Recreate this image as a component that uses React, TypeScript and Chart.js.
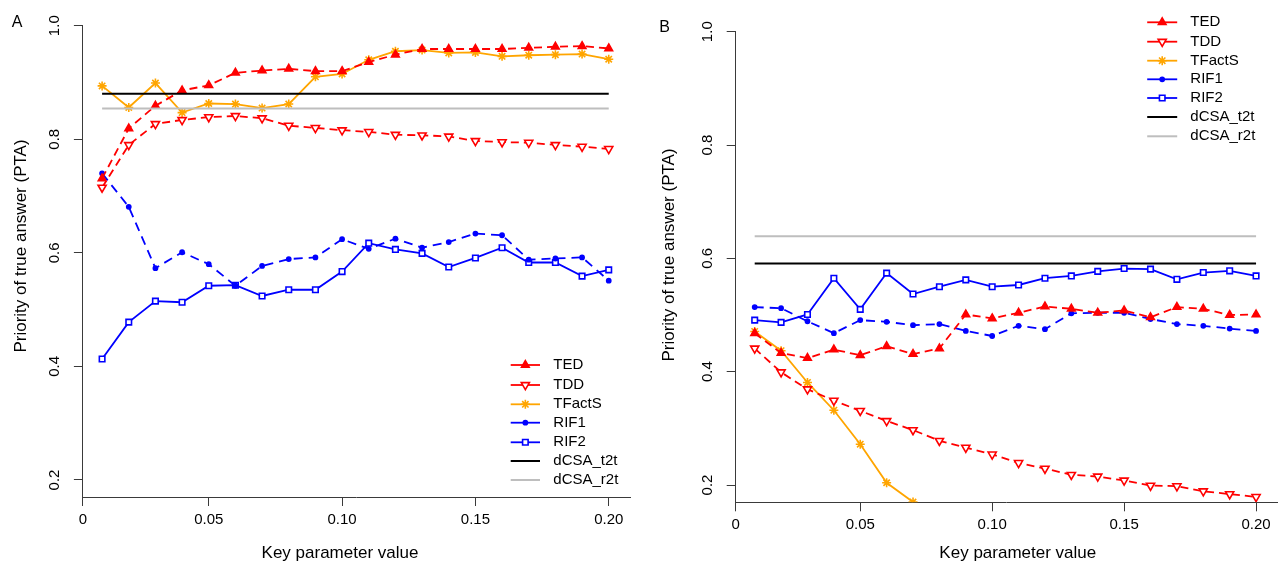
import React, { useEffect, useRef } from 'react';
import { Chart, registerables } from 'chart.js';
import { drawPoint } from 'chart.js/helpers';

Chart.register(...registerables);

// ---------------- data ----------------
const KEY_PARAM = [0.01, 0.02, 0.03, 0.04, 0.05, 0.06, 0.07, 0.08, 0.09, 0.1, 0.11, 0.12, 0.13, 0.14, 0.15, 0.16, 0.17, 0.18, 0.19, 0.2];
const X_TICK_VALUES = [0.05, 0.1, 0.15, 0.2];
const Y_TICK_VALUES = [0.2, 0.4, 0.6, 0.8, 1.0];
const SERIES_NAMES = ['TED', 'TDD', 'TFactS', 'RIF1', 'RIF2', 'dCSA_t2t', 'dCSA_r2t'];
const X_TITLE = 'Key parameter value';
const Y_TITLE = 'Priority of true answer (PTA)';

// Panel A
const A_TED = [0.731, 0.819, 0.859, 0.886, 0.895, 0.917, 0.921, 0.924, 0.92, 0.92, 0.936, 0.949, 0.959, 0.959, 0.959, 0.959, 0.961, 0.963, 0.964, 0.96];
const A_TDD = [0.715, 0.79, 0.827, 0.834, 0.839, 0.841, 0.837, 0.824, 0.82, 0.816, 0.813, 0.808, 0.807, 0.805, 0.797, 0.795, 0.794, 0.79, 0.787, 0.783];
const A_TFACTS = [0.894, 0.856, 0.899, 0.847, 0.863, 0.862, 0.855, 0.862, 0.91, 0.915, 0.94, 0.955, 0.957, 0.952, 0.953, 0.946, 0.948, 0.949, 0.95, 0.941];
const A_RIF1 = [0.74, 0.681, 0.573, 0.601, 0.58, 0.542, 0.577, 0.589, 0.592, 0.624, 0.607, 0.625, 0.609, 0.619, 0.634, 0.631, 0.588, 0.59, 0.592, 0.551];
const A_RIF2 = [0.413, 0.478, 0.515, 0.513, 0.542, 0.543, 0.524, 0.535, 0.535, 0.567, 0.617, 0.606, 0.599, 0.575, 0.591, 0.609, 0.583, 0.583, 0.559, 0.57];
const A_T2T = 0.88;
const A_R2T = 0.854;

// Panel B
const B_TED = [0.468, 0.433, 0.424, 0.439, 0.429, 0.445, 0.431, 0.441, 0.501, 0.494, 0.504, 0.515, 0.511, 0.504, 0.508, 0.496, 0.514, 0.511, 0.5, 0.501];
const B_TDD = [0.441, 0.399, 0.369, 0.349, 0.331, 0.313, 0.297, 0.278, 0.266, 0.254, 0.239, 0.229, 0.218, 0.215, 0.208, 0.199, 0.198, 0.189, 0.184, 0.179];
const B_TFACTS = [0.471, 0.437, 0.381, 0.332, 0.272, 0.204, 0.17, null, null, null, null, null, null, null, null, null, null, null, null, null];
const B_RIF1 = [0.514, 0.512, 0.489, 0.468, 0.491, 0.488, 0.482, 0.484, 0.472, 0.463, 0.481, 0.475, 0.503, 0.504, 0.504, 0.493, 0.484, 0.481, 0.476, 0.472];
const B_RIF2 = [0.491, 0.487, 0.501, 0.565, 0.51, 0.574, 0.537, 0.55, 0.562, 0.55, 0.553, 0.565, 0.569, 0.577, 0.582, 0.581, 0.563, 0.575, 0.578, 0.569];
const B_T2T = 0.591;
const B_R2T = 0.639;

// ---------------- styles ----------------
const FONT = '"Liberation Sans", Arial, Helvetica, sans-serif';
const AXIS_COLOR = '#3a3a3a';

type Style = {
  color: string;
  width: number;
  dash: number[];
  pointStyle: any;
  radius: number;
  rotation: number;
  fill: string;
};

const STYLES: Record<string, Style> = {
  TED: { color: '#FF0000', width: 1.8, dash: [8, 5], pointStyle: 'triangle', radius: 4.4, rotation: 0, fill: '#FF0000' },
  TDD: { color: '#FF0000', width: 1.8, dash: [8, 5], pointStyle: 'triangle', radius: 4.7, rotation: 180, fill: '#FFFFFF' },
  TFactS: { color: '#FFA500', width: 1.8, dash: [], pointStyle: 'star', radius: 4.5, rotation: 0, fill: '#FFA500' },
  RIF1: { color: '#0000FF', width: 1.8, dash: [9, 6], pointStyle: 'circle', radius: 2.1, rotation: 0, fill: '#0000FF' },
  RIF2: { color: '#0000FF', width: 1.8, dash: [], pointStyle: 'rect', radius: 3.9, rotation: 0, fill: '#FFFFFF' },
  dCSA_t2t: { color: '#000000', width: 2, dash: [], pointStyle: false, radius: 0, rotation: 0, fill: '#000000' },
  dCSA_r2t: { color: '#BEBEBE', width: 2, dash: [], pointStyle: false, radius: 0, rotation: 0, fill: '#BEBEBE' },
};

type Panel = {
  letter: string;
  values: (number | null)[][];
  t2t: number;
  r2t: number;
  width: number;
  yMin: number;
  xMin: number;
  xMax: number;
  padTop: number;
  padRight: number;
  yAxisW: number;
  xAxisH: number;
  letterPos: [number, number];
  xTitlePos: [number, number];
  yTitlePos: [number, number];
  legendRows: number[];
  legendLine: [number, number];
  legendText: number;
};

const PANELS: Panel[] = [
  {
    letter: 'A',
    values: [A_TED, A_TDD, A_TFACTS, A_RIF1, A_RIF2],
    t2t: A_T2T,
    r2t: A_R2T,
    width: 640,
    yMin: 0.17,
    xMin: 0.0028,
    xMax: 0.2082,
    padTop: 25.7,
    padRight: 9.4,
    yAxisW: 82.9,
    xAxisH: 66,
    letterPos: [17, 22.5],
    xTitlePos: [340, 557.5],
    yTitlePos: [26, 246],
    legendRows: [365, 385, 404.3, 422.7, 442.3, 461, 480],
    legendLine: [510.7, 540],
    legendText: 553.3,
  },
  {
    letter: 'B',
    values: [B_TED, B_TDD, B_TFACTS, B_RIF1, B_RIF2],
    t2t: B_T2T,
    r2t: B_R2T,
    width: 644,
    yMin: 0.1695,
    xMin: 0.0028,
    xMax: 0.2082,
    padTop: 31.7,
    padRight: 0.5,
    yAxisW: 95.7,
    xAxisH: 60.7,
    letterPos: [24.7, 27.5],
    xTitlePos: [377.8, 557.5],
    yTitlePos: [34.3, 255],
    legendRows: [22.3, 41.7, 60.7, 79.3, 98, 117, 136.3],
    legendLine: [507.2, 537.2],
    legendText: 550.3,
  },
];

function makeDataset(name: string, vals: (number | null)[]) {
  const s = STYLES[name];
  return {
    label: name,
    data: KEY_PARAM.map((x, i) => ({ x, y: vals[i] })),
    borderColor: s.color,
    backgroundColor: s.color,
    borderWidth: s.width,
    borderDash: s.dash,
    pointStyle: s.pointStyle,
    pointRadius: s.radius,
    pointRotation: s.rotation,
    pointBackgroundColor: s.fill,
    pointBorderColor: s.color,
    pointBorderWidth: 1.6,
    tension: 0,
    spanGaps: false,
    fill: false,
  };
}

function makeHLine(name: string, v: number) {
  const s = STYLES[name];
  return {
    label: name,
    data: [
      { x: KEY_PARAM[0], y: v },
      { x: KEY_PARAM[KEY_PARAM.length - 1], y: v },
    ],
    borderColor: s.color,
    borderWidth: s.width,
    pointRadius: 0,
    tension: 0,
    fill: false,
  };
}

function annotPlugin(p: Panel) {
  return {
    id: 'annot' + p.letter,
    afterDraw(chart: any) {
      const ctx = chart.ctx as CanvasRenderingContext2D;
      ctx.save();
      ctx.fillStyle = '#000';
      ctx.textAlign = 'center';
      ctx.textBaseline = 'middle';
      ctx.font = `16px ${FONT}`;
      ctx.fillText(p.letter, p.letterPos[0], p.letterPos[1]);

      ctx.font = `17px ${FONT}`;
      ctx.textBaseline = 'alphabetic';
      ctx.fillText(X_TITLE, p.xTitlePos[0], p.xTitlePos[1]);

      ctx.save();
      ctx.translate(p.yTitlePos[0], p.yTitlePos[1]);
      ctx.rotate(-Math.PI / 2);
      ctx.fillText(Y_TITLE, 0, 0);
      ctx.restore();

      // legend
      ctx.font = `15px ${FONT}`;
      ctx.textAlign = 'left';
      ctx.textBaseline = 'middle';
      SERIES_NAMES.forEach((name, i) => {
        const s = STYLES[name];
        const y = p.legendRows[i];
        ctx.save();
        ctx.strokeStyle = s.color;
        ctx.lineWidth = s.width;
        ctx.setLineDash([]);
        ctx.beginPath();
        ctx.moveTo(p.legendLine[0], y);
        ctx.lineTo(p.legendLine[1], y);
        ctx.stroke();
        if (s.pointStyle) {
          ctx.fillStyle = s.fill;
          ctx.lineWidth = 1.6;
          drawPoint(
            ctx,
            { pointStyle: s.pointStyle, rotation: s.rotation, radius: s.radius, borderWidth: 1.6 } as any,
            (p.legendLine[0] + p.legendLine[1]) / 2,
            y
          );
        }
        ctx.restore();
        ctx.fillStyle = '#000';
        ctx.fillText(name, p.legendText, y);
      });
      ctx.restore();
    },
  };
}

function buildConfig(p: Panel): any {
  const datasets: any[] = [
    makeHLine('dCSA_t2t', p.t2t),
    makeHLine('dCSA_r2t', p.r2t),
    ...['TED', 'TDD', 'TFactS', 'RIF1', 'RIF2'].map((n, i) => makeDataset(n, p.values[i])),
  ];
  const grid = {
    display: true,
    drawOnChartArea: false,
    drawTicks: true,
    tickLength: 9,
    color: AXIS_COLOR,
    tickColor: AXIS_COLOR,
    lineWidth: 1,
  };
  const border = { display: true, color: AXIS_COLOR, width: 1 };
  return {
    type: 'line',
    data: { datasets },
    options: {
      responsive: false,
      animation: false,
      events: [],
      devicePixelRatio: 1,
      layout: { padding: { left: 0, top: p.padTop, right: p.padRight, bottom: 0 } },
      plugins: { legend: { display: false }, tooltip: { enabled: false }, title: { display: false } },
      scales: {
        x: {
          type: 'linear',
          min: p.xMin,
          max: p.xMax,
          afterBuildTicks: (s: any) => {
            s.ticks = [p.xMin, ...X_TICK_VALUES].map((v) => ({ value: v }));
          },
          afterFit: (s: any) => {
            s.height = p.xAxisH;
          },
          ticks: {
            autoSkip: false,
            maxRotation: 0,
            minRotation: 0,
            padding: 5,
            color: '#000',
            font: { family: FONT, size: 15 },
            callback: (v: any) => (Number(v) < 0.01 ? '0' : Number(v).toFixed(2)),
          },
          grid,
          border,
        },
        y: {
          type: 'linear',
          min: p.yMin,
          max: 1.0,
          afterBuildTicks: (s: any) => {
            s.ticks = Y_TICK_VALUES.map((v) => ({ value: v }));
          },
          afterFit: (s: any) => {
            s.width = p.yAxisW;
          },
          ticks: {
            autoSkip: false,
            minRotation: 90,
            maxRotation: 90,
            crossAlign: 'center',
            padding: 8.5,
            color: '#000',
            font: { family: FONT, size: 15 },
            callback: (v: any) => Number(v).toFixed(1),
          },
          grid,
          border,
        },
      },
    },
    plugins: [annotPlugin(p)],
  };
}

function PanelChart({ panel, left }: { panel: Panel; left: number }) {
  const ref = useRef<HTMLCanvasElement | null>(null);
  useEffect(() => {
    if (!ref.current) return;
    const chart = new Chart(ref.current, buildConfig(panel));
    return () => chart.destroy();
  }, [panel]);
  return (
    <canvas
      ref={ref}
      width={panel.width}
      height={563}
      style={{ position: 'absolute', left, top: 0, width: panel.width, height: 563, display: 'block' }}
    />
  );
}

export default function App() {
  return (
    <div style={{ position: 'fixed', left: 0, top: 0, width: 1284, height: 563, background: '#ffffff', overflow: 'hidden' }}>
      <PanelChart panel={PANELS[0]} left={0} />
      <PanelChart panel={PANELS[1]} left={640} />
    </div>
  );
}
